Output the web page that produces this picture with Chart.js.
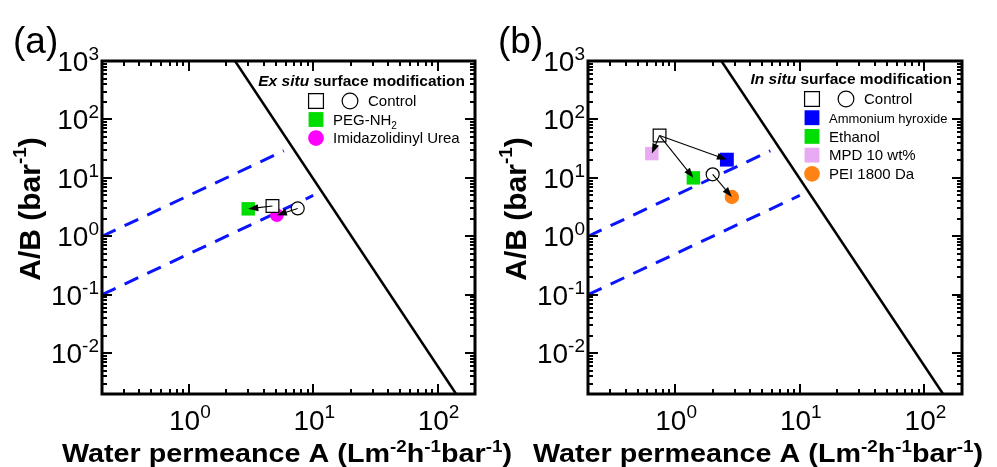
<!DOCTYPE html>
<html>
<head>
<meta charset="utf-8">
<script src="https://cdn.jsdelivr.net/npm/chart.js@4"></script>
<style>
  html, body { margin: 0; padding: 0; background: #fff; }
  #wrap { position: relative; width: 997px; height: 467px; }
  #wrap canvas { position: absolute; left: 0; top: 0; }
</style>
</head>
<body>
<div id="wrap">
  <canvas id="chartA" width="997" height="467"></canvas>
  <canvas id="chartB" width="997" height="467"></canvas>
</div>
<script>
// axis ranges and tick labels (both panels)
const xMin = 0.2, xMax = 200;
const yMin = 0.002, yMax = 1000;
const xMajorTicks = [1, 10, 100];
const xTickExps = ["0", "1", "2"];
const yMajorTicks = [0.01, 0.1, 1, 10, 100, 1000];
const yTickExps = ["-2", "-1", "0", "1", "2", "3"];

// guide lines
const boundA = [2.35, 141];      // solid black upper bound
const boundAB = [1000, 0.002];
const dashUpA = [0.2, 5.8];      // A/B = 5 A
const dashUpAB = [1.0, 29];
const dashLowA = [0.2, 10];      // A/B = 0.5 A
const dashLowAB = [0.1, 5];

// (a) ex situ surface modification
const exSituNames = ["Control", "Control", "PEG-NH2", "Imidazolidinyl Urea"];
const exSituA = [4.7, 7.5, 3.0, 5.1];
const exSituAB = [3.3, 3.0, 2.95, 2.3];
const exSituArrows = [[0, 2], [1, 3]];

// (b) in situ surface modification
const inSituNames = ["Control", "Control", "Ammonium hyroxide", "Ethanol", "MPD 10 wt%", "PEI 1800 Da"];
const inSituA = [0.75, 2.0, 2.6, 1.4, 0.65, 2.85];
const inSituAB = [53, 11.5, 20.5, 10, 26, 4.7];
const inSituArrows = [[0, 2], [0, 3], [0, 4], [1, 5]];

const FONT = '"Liberation Sans", Arial, Helvetica, sans-serif';

const marks = {
  ctrlSq:  { shape: 'rect',   r: 9,   fill: '#ffffff', stroke: '#000000', bw: 1.2 },
  ctrlCi:  { shape: 'circle', r: 6.5, fill: '#ffffff', stroke: '#000000', bw: 1.2 },
  green:   { shape: 'rect',   r: 9.5, fill: '#00dd00', stroke: '#00dd00', bw: 0 },
  magenta: { shape: 'circle', r: 6.8, fill: '#ff00ff', stroke: '#ff00ff', bw: 0 },
  blue:    { shape: 'rect',   r: 9.8, fill: '#0000ff', stroke: '#0000ff', bw: 0 },
  pink:    { shape: 'rect',   r: 9.5, fill: '#e8aaf2', stroke: '#e8aaf2', bw: 0 },
  orange:  { shape: 'circle', r: 7.2, fill: '#ff8214', stroke: '#ff8214', bw: 0 }
};
const exSituMarks = ['ctrlSq', 'ctrlCi', 'green', 'magenta'];
const inSituMarks = ['ctrlSq', 'ctrlCi', 'blue', 'green', 'pink', 'orange'];

function lineSet(xs, ys, color, width, dash) {
  return {
    data: xs.map((x, i) => ({ x: x, y: ys[i] })),
    showLine: true, pointRadius: 0, borderColor: color, borderWidth: width,
    borderDash: dash, fill: false, order: 10
  };
}

function pointSets(xs, ys, keys) {
  return xs.map((x, i) => {
    const m = marks[keys[i]];
    return {
      data: [{ x: x, y: ys[i] }],
      pointStyle: m.shape, pointRadius: m.r,
      pointBackgroundColor: m.fill, pointBorderColor: m.stroke, pointBorderWidth: m.bw,
      showLine: false, order: 1
    };
  });
}

// draw text made of pieces (superscripts etc.)
function pieces(ctx, x, y, parts, align) {
  let w = 0;
  parts.forEach(p => { ctx.font = p.font; p.w = ctx.measureText(p.t).width; w += p.w; });
  let cx = align === 'right' ? x - w : (align === 'center' ? x - w / 2 : x);
  ctx.textAlign = 'left';
  ctx.textBaseline = 'alphabetic';
  parts.forEach(p => { ctx.font = p.font; ctx.fillText(p.t, cx, y + (p.dy || 0)); cx += p.w; });
  return w;
}

function drawMark(ctx, key, x, y, r) {
  const m = marks[key];
  ctx.save();
  ctx.fillStyle = m.fill;
  ctx.strokeStyle = m.stroke;
  ctx.lineWidth = m.bw;
  ctx.beginPath();
  if (m.shape === 'rect') {
    const s = r * Math.SQRT1_2;
    ctx.rect(x - s, y - s, 2 * s, 2 * s);
  } else {
    ctx.arc(x, y, r * 0.75, 0, Math.PI * 2);
  }
  ctx.fill();
  if (m.bw > 0) ctx.stroke();
  ctx.restore();
}

function arrow(ctx, x1, y1, x2, y2) {
  const ang = Math.atan2(y2 - y1, x2 - x1);
  const c = Math.cos(ang), s = Math.sin(ang);
  const head = 10, half = 3.5;
  ctx.save();
  ctx.strokeStyle = '#000';
  ctx.fillStyle = '#000';
  ctx.lineWidth = 1.1;
  ctx.beginPath();
  ctx.moveTo(x1, y1);
  ctx.lineTo(x2 - head * 0.8 * c, y2 - head * 0.8 * s);
  ctx.stroke();
  ctx.beginPath();
  ctx.moveTo(x2, y2);
  ctx.lineTo(x2 - head * c + half * s, y2 - head * s - half * c);
  ctx.lineTo(x2 - head * c - half * s, y2 - head * s + half * c);
  ctx.closePath();
  ctx.fill();
  ctx.restore();
}

function panelPlugin(p) {
  return {
    id: 'panel' + p.letter,
    afterDatasetsDraw(chart) {
      const ctx = chart.ctx, xs = chart.scales.x, ys = chart.scales.y;
      p.arrows.forEach(([f, t]) => {
        arrow(ctx, xs.getPixelForValue(p.xs[f]), ys.getPixelForValue(p.ys[f]),
                   xs.getPixelForValue(p.xs[t]), ys.getPixelForValue(p.ys[t]));
      });
    },
    afterDraw(chart) {
      const ctx = chart.ctx, a = chart.chartArea;
      const xs = chart.scales.x, ys = chart.scales.y;
      ctx.save();
      ctx.fillStyle = '#000';
      ctx.strokeStyle = '#000';

      // inward ticks on all sides
      ctx.lineWidth = 2;
      ctx.beginPath();
      for (let e = -1; e <= 2; e++) {
        for (let k = 1; k <= 9; k++) {
          const v = k * Math.pow(10, e);
          if (v < xMin || v > xMax) continue;
          const px = Math.round(xs.getPixelForValue(v));
          const len = k === 1 ? 10 : 5;
          ctx.moveTo(px, a.bottom); ctx.lineTo(px, a.bottom - len);
          ctx.moveTo(px, a.top); ctx.lineTo(px, a.top + len);
        }
      }
      for (let e = -3; e <= 3; e++) {
        for (let k = 1; k <= 9; k++) {
          const v = k * Math.pow(10, e);
          if (v < yMin || v > yMax) continue;
          const py = Math.round(ys.getPixelForValue(v));
          const len = k === 1 ? 10 : 5;
          ctx.moveTo(a.left, py); ctx.lineTo(a.left + len, py);
          ctx.moveTo(a.right, py); ctx.lineTo(a.right - len, py);
        }
      }
      ctx.stroke();

      // frame
      ctx.lineWidth = 3;
      ctx.strokeRect(a.left, a.top, a.right - a.left, a.bottom - a.top);

      // tick labels
      yMajorTicks.forEach((v, i) => {
        const py = ys.getPixelForValue(v);
        pieces(ctx, a.left - 3, py + 10, [
          { t: '10', font: '28px ' + FONT },
          { t: yTickExps[i], font: '19px ' + FONT, dy: -11 }
        ], 'right');
      });
      xMajorTicks.forEach((v, i) => {
        const px = xs.getPixelForValue(v);
        pieces(ctx, px + 1, 430, [
          { t: '10', font: '28px ' + FONT },
          { t: xTickExps[i], font: '19px ' + FONT, dy: -12 }
        ], 'center');
      });

      // panel letter
      ctx.font = '37px ' + FONT;
      ctx.textAlign = 'left';
      ctx.fillText(p.letter, p.letterX, 53);

      // y axis title
      ctx.save();
      ctx.translate(p.yTitleX, 209);
      ctx.rotate(-Math.PI / 2);
      const yParts = [
        { t: 'A/B (bar', font: 'bold 30px ' + FONT },
        { t: '-1', font: 'bold 19px ' + FONT, dy: -14 },
        { t: ')', font: 'bold 30px ' + FONT }
      ];
      pieces(ctx, 0, 0, yParts, 'center');
      ctx.restore();

      // x axis title
      const xParts = [
        { t: 'Water permeance A (Lm', font: 'bold 26px ' + FONT },
        { t: '-2', font: 'bold 17px ' + FONT, dy: -10 },
        { t: 'h', font: 'bold 26px ' + FONT },
        { t: '-1', font: 'bold 17px ' + FONT, dy: -10 },
        { t: 'bar', font: 'bold 26px ' + FONT },
        { t: '-1', font: 'bold 17px ' + FONT, dy: -10 },
        { t: ')', font: 'bold 26px ' + FONT }
      ];
      let natural = 0;
      xParts.forEach(q => { ctx.font = q.font; natural += ctx.measureText(q.t).width; });
      ctx.save();
      ctx.translate(p.xTitleX, 462);
      ctx.scale(450 / natural, 1);
      pieces(ctx, 0, 0, xParts, 'left');
      ctx.restore();

      // legend title
      const tParts = [
        { t: p.legendItalic, font: 'italic bold 15.5px ' + FONT },
        { t: ' surface modification', font: 'bold 15.5px ' + FONT }
      ];
      pieces(ctx, a.right - 10, p.legendTitleY + 5, tParts, 'right');

      // legend rows
      p.legendRows.forEach((row, i) => {
        const y = p.legendY0 + i * p.legendStep;
        drawMark(ctx, row.marks[0], p.legendMarkX, y, 10.5);
        if (row.marks[1]) drawMark(ctx, row.marks[1], p.legendMarkX + 34, y, 10.5);
        ctx.fillStyle = '#000';
        const tx = row.marks[1] ? p.legendMarkX + 52 : p.legendMarkX + 17;
        const size = row.size || 15;
        const parts = [{ t: row.text, font: size + 'px ' + FONT }];
        if (row.sub) parts.push({ t: row.sub, font: '10px ' + FONT, dy: 4 });
        pieces(ctx, tx, y + 5.3, parts, 'left');
      });
      ctx.restore();
    }
  };
}

function guideSets() {
  return [
    lineSet(boundA, boundAB, '#000000', 2.5, []),
    lineSet(dashUpA, dashUpAB, '#0a14ff', 3, [15, 10]),
    lineSet(dashLowA, dashLowAB, '#0a14ff', 3, [15, 10])
  ];
}

function makeChart(id, points, pad, p) {
  return new Chart(document.getElementById(id), {
    type: 'scatter',
    data: { datasets: guideSets().concat(points) },
    options: {
      responsive: false,
      animation: false,
      events: [],
      layout: { padding: pad },
      plugins: { legend: { display: false }, tooltip: { enabled: false } },
      scales: {
        x: { type: 'logarithmic', min: xMin, max: xMax, display: false },
        y: { type: 'logarithmic', min: yMin, max: yMax, display: false }
      }
    },
    plugins: [panelPlugin(p)]
  });
}

makeChart('chartA', pointSets(exSituA, exSituAB, exSituMarks),
  { left: 102, right: 997 - 475, top: 61, bottom: 467 - 394 },
  {
    letter: '(a)', letterX: 13, yTitleX: 40, xTitleX: 62,
    xs: exSituA, ys: exSituAB, arrows: exSituArrows,
    legendItalic: 'Ex situ', legendTitleY: 81,
    legendMarkX: 316, legendY0: 101, legendStep: 18.5,
    legendRows: [
      { marks: ['ctrlSq', 'ctrlCi'], text: exSituNames[0] },
      { marks: ['green'], text: 'PEG-NH', sub: '2' },
      { marks: ['magenta'], text: exSituNames[3] }
    ]
  });

makeChart('chartB', pointSets(inSituA, inSituAB, inSituMarks),
  { left: 588, right: 997 - 962, top: 61, bottom: 467 - 394 },
  {
    letter: '(b)', letterX: 498, yTitleX: 526, xTitleX: 533,
    xs: inSituA, ys: inSituAB, arrows: inSituArrows,
    legendItalic: 'In situ', legendTitleY: 79,
    legendMarkX: 812, legendY0: 99, legendStep: 18.7,
    legendRows: [
      { marks: ['ctrlSq', 'ctrlCi'], text: inSituNames[0] },
      { marks: ['blue'], text: inSituNames[2], size: 13 },
      { marks: ['green'], text: inSituNames[3] },
      { marks: ['pink'], text: inSituNames[4] },
      { marks: ['orange'], text: inSituNames[5] }
    ]
  });
</script>
</body>
</html>
